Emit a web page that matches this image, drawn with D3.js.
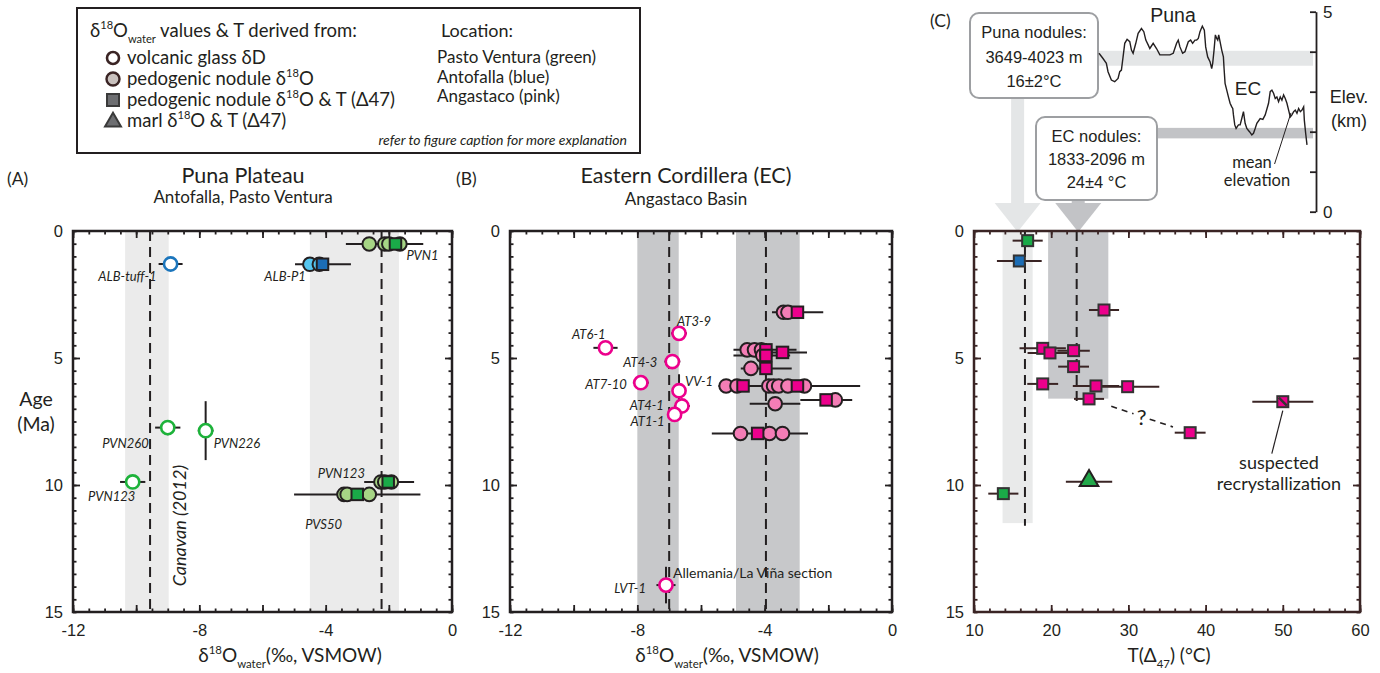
<!DOCTYPE html>
<html>
<head>
<meta charset="utf-8">
<script src="https://cdn.jsdelivr.net/npm/d3@7"></script>
<style>
body { margin: 0; background: #fff; }
svg text { font-family: Lato, "Open Sans", sans-serif; fill: #231f20; }
svg text.arial { font-family: "Liberation Sans", Arial, sans-serif; }
</style>
</head>
<body>
<div id="chart"></div>
<script>
// ---- tick labels ----
const ageTicks = [0, 5, 10, 15];
const d18OTicks = [-12, -8, -4, 0];
const tempTicks = [10, 20, 30, 40, 50, 60];
const elevTicks = [0, 1, 2, 3, 4, 5];

// ---- (A) Puna Plateau: Antofalla, Pasto Ventura ----
const punaGlass = [
    { sample: "ALB-tuff-1", site: "blue", d18O: -8.91, age: 1.30, d18OErr: 0.38, ageErr: 0 },
    { sample: "PVN260", site: "green", d18O: -9.00, age: 7.74, d18OErr: 0.40, ageErr: 0.3 },
    { sample: "PVN226", site: "green", d18O: -7.80, age: 7.86, d18OErr: 0.25, ageErr: 1.16 },
    { sample: "PVN123", site: "green", d18O: -10.11, age: 9.88, d18OErr: 0.40, ageErr: 0 }
];
const punaNodules = [
    { sample: "PVN1", site: "green", age: 0.51, lo: -3.36, hi: -0.91, circles: [-2.62, -2.13, -2.0, -1.65], squares: [-1.79] },
    { sample: "ALB-P1", site: "blue", age: 1.31, lo: -4.97, hi: -3.2, circles: [-4.5, -4.2], squares: [-4.1] },
    { sample: "PVN123", site: "green", age: 9.88, lo: -2.78, hi: -1.2, circles: [-2.25, -2.13, -1.92], squares: [-2.02] },
    { sample: "PVS50", site: "green", age: 10.37, lo: -5.0, hi: -1.0, circles: [-3.42, -3.32, -2.62], squares: [-3.0] }
];
const punaBands = [
    { mean: -9.56, lo: -10.35, hi: -8.97 },
    { mean: -2.23, lo: -4.5, hi: -1.68 }
];

// ---- (B) Eastern Cordillera: Angastaco Basin ----
const ecGlass = [
    { sample: "AT6-1", site: "pink", d18O: -9.0, age: 4.60, d18OErr: 0.38, ageErr: 0 },
    { sample: "AT3-9", site: "pink", d18O: -6.69, age: 4.03, d18OErr: 0.25, ageErr: 0 },
    { sample: "AT4-3", site: "pink", d18O: -6.9, age: 5.14, d18OErr: 0.25, ageErr: 0 },
    { sample: "AT7-10", site: "pink", d18O: -7.89, age: 5.97, d18OErr: 0.25, ageErr: 0 },
    { sample: "VV-1", site: "pink", d18O: -6.69, age: 6.29, d18OErr: 0.15, ageErr: 0.65 },
    { sample: "AT4-1", site: "pink", d18O: -6.6, age: 6.89, d18OErr: 0.25, ageErr: 0 },
    { sample: "AT1-1", site: "pink", d18O: -6.83, age: 7.22, d18OErr: 0.2, ageErr: 0 },
    { sample: "LVT-1", site: "pink", d18O: -7.1, age: 13.94, d18OErr: 0.3, ageErr: 0.72 }
];
const ecNodules = [
    { site: "pink", age: 3.20, lo: -3.77, hi: -2.16, circles: [-3.41, -3.27], squares: [-2.97] },
    { site: "pink", age: 4.68, lo: -4.98, hi: -3.0, circles: [-4.55, -4.32, -4.1], squares: [-3.96] },
    { site: "pink", age: 4.78, lo: -4.6, hi: -2.67, circles: [], squares: [-3.44] },
    { site: "pink", age: 4.90, lo: -4.98, hi: -3.2, circles: [-4.06], squares: [-3.96] },
    { site: "pink", age: 5.41, lo: -4.75, hi: -3.15, circles: [-4.43], squares: [-3.96] },
    { site: "pink", age: 6.10, lo: -5.45, hi: -1.0, circles: [-5.21, -4.87, -3.87, -3.72, -3.56, -3.27, -2.75], squares: [-4.68, -2.97] },
    { site: "pink", age: 6.65, lo: -2.88, hi: -1.25, circles: [-1.78], squares: [-2.07] },
    { site: "pink", age: 6.80, lo: -4.47, hi: -2.88, circles: [-3.67], squares: [] },
    { site: "pink", age: 7.97, lo: -5.66, hi: -2.64, circles: [-4.76, -3.85, -3.44], squares: [-4.22] }
];
const ecBands = [
    { mean: -7.0, lo: -8.0, hi: -6.7 },
    { mean: -3.96, lo: -4.9, hi: -2.9 }
];

// ---- (C) clumped isotope temperatures ----
const clumpedNodules = [
    { site: "green", temp: 16.95, age: 0.38, tempErr: 1.95 },
    { site: "blue", temp: 15.87, age: 1.18, tempErr: 2.9 },
    { site: "pink", temp: 26.84, age: 3.11, tempErr: 1.95 },
    { site: "pink", temp: 18.9, age: 4.62, tempErr: 3.0 },
    { site: "pink", temp: 22.9, age: 4.71, tempErr: 2.1 },
    { site: "pink", temp: 19.84, age: 4.80, tempErr: 2.9 },
    { site: "pink", temp: 22.9, age: 5.34, tempErr: 2.0 },
    { site: "pink", temp: 18.9, age: 6.02, tempErr: 2.0 },
    { site: "pink", temp: 25.8, age: 6.10, tempErr: 3.0 },
    { site: "pink", temp: 29.9, age: 6.13, tempErr: 4.1 },
    { site: "pink", temp: 24.9, age: 6.61, tempErr: 1.95 },
    { site: "pink", temp: 38.0, age: 7.94, tempErr: 2.0 },
    { site: "pink", temp: 50.0, age: 6.72, tempErr: 3.95, suspect: true },
    { site: "green", temp: 13.8, age: 10.34, tempErr: 1.95 }
];
const clumpedMarl = [
    { site: "green", temp: 24.9, age: 9.87, tempErr: 3.0 }
];
const tempBands = [
    { name: "Puna", mean: 16.6, lo: 13.7, hi: 17.6, ageMax: 11.5, elevLo: 3.649, elevHi: 4.023, text: ["Puna nodules:", "3649-4023 m", "16±2°C"] },
    { name: "EC", mean: 23.3, lo: 19.6, hi: 27.4, ageMax: 6.6, elevLo: 1.833, elevHi: 2.096, text: ["EC nodules:", "1833-2096 m", "24±4 °C"] }
];

// ---- topographic profile (inset) ----
const profileDist = [0, 12, 22, 27, 37, 47, 57, 62, 67, 72, 77, 84, 92, 97, 102, 110, 117, 127, 134, 140,
    147, 152, 162, 172, 182, 192, 212, 222, 232, 237, 242, 250, 257, 267, 274, 280, 287, 292, 297, 302,
    309, 315, 319, 325, 332, 337, 340, 344, 348, 352, 355, 358, 362, 367, 372, 374, 377, 382, 387, 392,
    397, 400, 402, 406, 410, 417, 422, 427, 432, 437, 442, 450, 457, 462, 467, 472, 482, 490, 497, 507,
    512, 517, 522, 527, 532, 537, 542, 547, 552, 557, 562, 567, 572, 577, 582, 587, 592, 597, 602, 607,
    612, 614, 618, 622];
const profileElev = [3.96, 3.83, 3.71, 3.50, 3.29, 3.25, 3.33, 3.50, 3.54, 3.87,
    4.21, 4.31, 4.25, 4.04, 3.96, 4.21, 4.46, 4.58, 4.50, 4.29,
    4.17, 4.08, 4.21, 4.08, 3.92, 3.92, 3.92, 3.96, 4.21, 4.29,
    4.12, 3.96, 4.00, 4.25, 4.29, 4.21, 4.29, 4.29, 4.33, 4.50,
    4.64, 4.54, 4.12, 3.87, 3.75, 3.58, 3.71, 4.04, 4.42, 4.33,
    4.29, 4.42, 4.25, 4.04, 3.87, 3.58, 3.21, 3.04, 2.87, 2.71,
    2.62, 2.58, 2.42, 2.17, 2.08, 2.17, 2.17, 2.33, 2.50, 2.21,
    2.08, 2.00, 1.92, 1.96, 2.08, 2.21, 2.33, 2.31, 2.42, 2.71,
    3.00, 3.04, 2.96, 2.83, 2.87, 2.75, 2.87, 2.79, 2.92, 2.83,
    2.71, 2.54, 2.37, 2.42, 2.50, 2.54, 2.46, 2.58, 2.50, 2.54,
    2.62, 2.29, 1.96, 1.67];

// ---- styles ----
const siteColors = {
    green: { glass: "#1db23a", nodule: "#a6d585", square: "#1aaa48" },
    blue: { glass: "#1b75bc", nodule: "#55c6ef", square: "#1c6db5" },
    pink: { glass: "#ec008c", nodule: "#f47db6", square: "#ec008c" }
};
const ink = "#231f20";
const brown = "#3a2424";

const W = 1380, H = 673;
const svg = d3.select("#chart").append("svg").attr("width", W).attr("height", H);

const yAge = d3.scaleLinear().domain([0, 15]).range([231, 612]);
const xA = d3.scaleLinear().domain([-12, 0]).range([73, 452]);
const xB = d3.scaleLinear().domain([-12, 0]).range([510, 892]);
const xC = d3.scaleLinear().domain([10, 60]).range([974, 1360]);
const xProf = d3.scaleLinear().domain([0, 622]).range([1099, 1307]);
const yElev = d3.scaleLinear().domain([0, 5]).range([211.7, 11.7]);

// text with super/subscripts: parts = [text, shift(em), scale]
function rich(sel, parts, size) {
    let cur = 0;
    parts.forEach(([t, shift = 0, scale = 1]) => {
        sel.append("tspan").attr("dy", (shift - cur) * size).attr("font-size", size * scale).text(t);
        cur = shift;
    });
    return sel;
}
const SUP = -0.42, SUB = 0.32;

function frame(g, x, y, xMinor, xMajor, yMinor, yMajor, color) {
    const [xa, xb] = x.range(), [ya, yb] = y.range();
    const add = (fn, scale, vals, size, tr) => g.append("g").attr("transform", tr)
        .call(fn(scale).tickValues(vals).tickSize(-size).tickFormat(""))
        .call(s => s.select(".domain").remove())
        .call(s => s.selectAll("line").attr("stroke", color).attr("stroke-width", 1.8));
    [[xMinor, 3.5], [xMajor, 7]].forEach(([v, s]) => {
        add(d3.axisBottom, x, v, s, `translate(0,${yb})`);
        add(d3.axisTop, x, v, s, `translate(0,${ya})`);
    });
    [[yMinor, 3.5], [yMajor, 7]].forEach(([v, s]) => {
        add(d3.axisLeft, y, v, s, `translate(${xa},0)`);
        add(d3.axisRight, y, v, s, `translate(${xb},0)`);
    });
    g.append("rect").attr("x", xa).attr("y", ya).attr("width", xb - xa).attr("height", yb - ya)
        .attr("fill", "none").attr("stroke", color).attr("stroke-width", 2.5);
}

function tickLabels(g, x, xVals, y) {
    g.append("g").attr("transform", `translate(0,${y.range()[1]})`)
        .call(d3.axisBottom(x).tickValues(xVals).tickSize(0).tickPadding(12).tickFormat(d => String(d)))
        .call(s => s.select(".domain").remove())
        .call(s => s.selectAll("text").attr("class", "arial").attr("font-size", 16.5).attr("fill", ink));
    g.append("g").attr("transform", `translate(${x.range()[0]},0)`)
        .call(d3.axisLeft(y).tickValues(ageTicks).tickSize(0).tickPadding(10).tickFormat(d => String(d)))
        .call(s => s.select(".domain").remove())
        .call(s => s.selectAll("text").attr("class", "arial").attr("font-size", 16.5).attr("fill", ink));
}

function bands(g, x, list, fill) {
    list.forEach(b => {
        g.append("rect").attr("x", x(b.lo)).attr("width", x(b.hi) - x(b.lo))
            .attr("y", yAge(0)).attr("height", yAge(15) - yAge(0)).attr("fill", fill);
        g.append("line").attr("x1", x(b.mean)).attr("x2", x(b.mean)).attr("y1", yAge(0)).attr("y2", yAge(15))
            .attr("stroke", ink).attr("stroke-width", 2).attr("stroke-dasharray", "10,6");
    });
}

function errH(g, x, a, b, age, color = ink) {
    g.append("line").attr("x1", x(a)).attr("x2", x(b)).attr("y1", yAge(age)).attr("y2", yAge(age))
        .attr("stroke", color).attr("stroke-width", 2);
}
function errV(g, xv, a, b, color = ink) {
    g.append("line").attr("x1", xv).attr("x2", xv).attr("y1", yAge(a)).attr("y2", yAge(b))
        .attr("stroke", color).attr("stroke-width", 2);
}
function square(g, cx, cy, fill, stroke, s = 11) {
    return g.append("rect").attr("x", cx - s / 2).attr("y", cy - s / 2).attr("width", s).attr("height", s)
        .attr("fill", fill).attr("stroke", stroke).attr("stroke-width", 2);
}

function nodules(g, x, rows) {
    rows.forEach(r => errH(g, x, r.lo, r.hi, r.age));
    rows.forEach(r => r.circles.forEach(v => g.append("circle").attr("cx", x(v)).attr("cy", yAge(r.age)).attr("r", 6.8)
        .attr("fill", siteColors[r.site].nodule).attr("stroke", ink).attr("stroke-width", 2)));
    rows.forEach(r => r.squares.forEach(v => square(g, x(v), yAge(r.age), siteColors[r.site].square, ink, 11.5)));
}

const labelSize = 13;
function glass(g, x, rows, offsets) {
    rows.forEach(d => {
        errH(g, x, d.d18O - d.d18OErr, d.d18O + d.d18OErr, d.age);
        if (d.ageErr) errV(g, x(d.d18O), d.age - d.ageErr, d.age + d.ageErr);
    });
    rows.forEach(d => g.append("circle").attr("cx", x(d.d18O)).attr("cy", yAge(d.age)).attr("r", 6.6)
        .attr("fill", "#fff").attr("stroke", siteColors[d.site].glass).attr("stroke-width", 2.6));
    rows.forEach(d => {
        const o = offsets[d.sample];
        g.append("text").attr("x", x(d.d18O) + o[0]).attr("y", yAge(d.age) + o[1]).attr("text-anchor", o[2])
            .attr("font-size", labelSize).attr("font-style", "italic").attr("fill", "#2a2a2a").text(d.sample);
    });
}

function sampleLabel(g, x, v, age, o, text) {
    g.append("text").attr("x", x(v) + o[0]).attr("y", yAge(age) + o[1]).attr("text-anchor", o[2])
        .attr("font-size", labelSize).attr("font-style", "italic").attr("fill", "#2a2a2a").text(text);
}

function xTitle(g, cx, parts) {
    rich(g.append("text").attr("x", cx).attr("y", 662).attr("text-anchor", "middle"), parts, 19);
}

const minorD = d3.range(-12, 0.01, 0.5), majorD = d3.range(-12, 0.01, 2);
const minorAge = d3.range(0, 15.01, 0.5), majorAge = [5, 10];

// ================= Legend =================
const leg = svg.append("g");
leg.append("rect").attr("x", 77).attr("y", 8).attr("width", 563).attr("height", 145)
    .attr("fill", "#fff").attr("stroke", ink).attr("stroke-width", 2);
rich(leg.append("text").attr("x", 90).attr("y", 37),
    [["δ"], ["18", SUP, 0.6], ["O", 0], ["water", SUB, 0.6], [" values & T derived from:", 0]], 18.5);
const legItems = [
    { shape: "open", parts: [["volcanic glass δD"]] },
    { shape: "circle", parts: [["pedogenic nodule δ"], ["18", SUP, 0.6], ["O", 0]] },
    { shape: "square", parts: [["pedogenic nodule δ"], ["18", SUP, 0.6], ["O & T (Δ47)", 0]] },
    { shape: "triangle", parts: [["marl  δ"], ["18", SUP, 0.6], ["O & T (Δ47)", 0]] }
];
legItems.forEach((it, i) => {
    const cy = 58 + i * 21;
    if (it.shape === "open") leg.append("circle").attr("cx", 113).attr("cy", cy).attr("r", 6).attr("fill", "#fff").attr("stroke", brown).attr("stroke-width", 2.6);
    if (it.shape === "circle") leg.append("circle").attr("cx", 113).attr("cy", cy).attr("r", 6.5).attr("fill", "#c9c1be").attr("stroke", brown).attr("stroke-width", 2.4);
    if (it.shape === "square") square(leg, 113, cy, "#6d6e71", "#3a3a3a", 12);
    if (it.shape === "triangle") leg.append("path").attr("d", d3.symbol(d3.symbolTriangle, 110)())
        .attr("transform", `translate(113,${cy + 1})`).attr("fill", "#6d6e71").attr("stroke", "#3a3a3a").attr("stroke-width", 2);
    rich(leg.append("text").attr("x", 127).attr("y", cy + 6), it.parts, 18.5);
});
leg.append("text").attr("x", 441).attr("y", 37).attr("font-size", 18).text("Location:");
["Pasto Ventura (green)", "Antofalla (blue)", "Angastaco (pink)"].forEach((t, i) =>
    leg.append("text").attr("x", 437).attr("y", 63 + i * 19.5).attr("font-size", 17).text(t));
leg.append("text").attr("x", 627).attr("y", 145).attr("text-anchor", "end").attr("font-size", 14)
    .attr("font-style", "italic").text("refer to figure caption for more explanation");

// ================= Panel A =================
const gA = svg.append("g");
gA.append("text").attr("x", 7).attr("y", 185).attr("font-size", 17.5).text("(A)");
gA.append("text").attr("x", 243).attr("y", 183).attr("text-anchor", "middle").attr("font-size", 21.5).text("Puna Plateau");
gA.append("text").attr("x", 243).attr("y", 203).attr("text-anchor", "middle").attr("font-size", 17).text("Antofalla, Pasto Ventura");
bands(gA, xA, punaBands, "#ebebeb");
gA.append("text").attr("transform", `translate(186,${yAge(11.6)}) rotate(-90)`).attr("text-anchor", "middle")
    .attr("font-size", 18).attr("font-style", "italic").text("Canavan (2012)");
glass(gA, xA, punaGlass, {
    "ALB-tuff-1": [-14, 17, "end"], "PVN260": [-19, 20, "end"], "PVN226": [8, 17, "start"], "PVN123": [-21, 19, "middle"]
});
nodules(gA, xA, punaNodules);
sampleLabel(gA, xA, -1.79, 0.51, [11, 16, "start"], "PVN1");
sampleLabel(gA, xA, -4.5, 1.31, [-4, 17, "end"], "ALB-P1");
sampleLabel(gA, xA, -2.25, 9.88, [-16, -4, "end"], "PVN123");
sampleLabel(gA, xA, -3.42, 10.37, [-2, 35, "end"], "PVS50");
frame(gA, xA, yAge, minorD, majorD, minorAge, majorAge, ink);
tickLabels(gA, xA, d18OTicks, yAge);
xTitle(gA, 290, [["δ"], ["18", SUP, 0.6], ["O", 0], ["water", SUB, 0.6], ["(‰, VSMOW)", 0]]);
gA.append("text").attr("x", 36).attr("y", 406).attr("text-anchor", "middle").attr("font-size", 19.5).text("Age");
gA.append("text").attr("x", 36).attr("y", 431).attr("text-anchor", "middle").attr("font-size", 19.5).text("(Ma)");

// ================= Panel B =================
const gB = svg.append("g");
gB.append("text").attr("x", 456).attr("y", 185).attr("font-size", 17.5).text("(B)");
gB.append("text").attr("x", 686).attr("y", 183).attr("text-anchor", "middle").attr("font-size", 21.5).text("Eastern Cordillera (EC)");
gB.append("text").attr("x", 686).attr("y", 205).attr("text-anchor", "middle").attr("font-size", 17).text("Angastaco Basin");
bands(gB, xB, ecBands, "#c7c8ca");
nodules(gB, xB, ecNodules);
glass(gB, xB, ecGlass, {
    "AT6-1": [0, -9, "end"], "AT3-9": [-2, -7, "start"], "AT4-3": [-15, 5, "end"], "AT7-10": [-14, 6, "end"],
    "VV-1": [6, -5, "start"], "AT4-1": [-18, 4, "end"], "AT1-1": [-10, 12, "end"], "LVT-1": [-20, 8, "end"]
});
const lvt = ecGlass.find(d => d.sample === "LVT-1");
gB.append("text").attr("x", xB(lvt.d18O) + 7).attr("y", yAge(lvt.age) - 7).attr("font-size", 14).attr("fill", "#333")
    .text("Allemania/La Viña section");
frame(gB, xB, yAge, minorD, majorD, minorAge, majorAge, ink);
tickLabels(gB, xB, d18OTicks, yAge);
xTitle(gB, 727, [["δ"], ["18", SUP, 0.6], ["O", 0], ["water", SUB, 0.6], ["(‰, VSMOW)", 0]]);

// ================= Panel C =================
const gC = svg.append("g");
gC.append("text").attr("x", 930).attr("y", 27).attr("font-size", 17.5).text("(C)");

// inset: elevation profile
tempBands.forEach((b, i) => {
    const boxX = i === 0 ? 970 : 1036, boxY = i === 0 ? 13 : 117, boxW = i === 0 ? 128 : 121, boxH = i === 0 ? 85 : 83;
    const fill = i === 0 ? "#e4e6e7" : "#c2c3c6";
    gC.append("rect").attr("x", boxX + boxW).attr("width", 1313 - boxX - boxW)
        .attr("y", yElev(b.elevHi)).attr("height", yElev(b.elevLo) - yElev(b.elevHi)).attr("fill", fill);
    const cx = xC((b.lo + b.hi) / 2);
    gC.append("rect").attr("x", cx - 6.5).attr("width", 13).attr("y", boxY + boxH).attr("height", 204 - boxY - boxH).attr("fill", fill);
    gC.append("path").attr("d", `M${cx - 23},203 L${cx + 23},203 L${cx},232 Z`).attr("fill", fill);
    // plot band and dashed mean
    gC.append("rect").attr("x", xC(b.lo)).attr("width", xC(b.hi) - xC(b.lo)).attr("y", yAge(0))
        .attr("height", yAge(b.ageMax) - yAge(0)).attr("fill", i === 0 ? "#e9eaea" : "#c7c8cb");
    gC.append("line").attr("x1", xC(b.mean)).attr("x2", xC(b.mean)).attr("y1", yAge(0)).attr("y2", yAge(b.ageMax + 0.1))
        .attr("stroke", ink).attr("stroke-width", 2).attr("stroke-dasharray", "10,6");
    gC.append("rect").attr("x", boxX).attr("y", boxY).attr("width", boxW).attr("height", boxH).attr("rx", 9)
        .attr("fill", "#fff").attr("stroke", "#9d9fa2").attr("stroke-width", 2);
    b.text.forEach((t, j) => gC.append("text").attr("class", "arial").attr("x", boxX + boxW / 2)
        .attr("y", boxY + 25 + j * (i === 0 ? 24.5 : 23)).attr("text-anchor", "middle").attr("font-size", 16.5).text(t));
});
gC.append("path")
    .attr("d", d3.line().x((d, i) => xProf(profileDist[i])).y(d => yElev(d))(profileElev))
    .attr("fill", "none").attr("stroke", ink).attr("stroke-width", 1.4);
gC.append("g").attr("transform", "translate(1316,0)")
    .call(d3.axisLeft(yElev).tickValues(elevTicks).tickSize(6).tickSizeOuter(0).tickFormat(""))
    .call(s => s.selectAll("line,path").attr("stroke", ink).attr("stroke-width", 1.8));
[[5, "5"], [0, "0"]].forEach(([v, t]) => gC.append("text").attr("class", "arial").attr("x", 1323)
    .attr("y", yElev(v) + 6.5).attr("font-size", 17).text(t));
gC.append("text").attr("class", "arial").attr("x", 1349).attr("y", 103).attr("text-anchor", "middle").attr("font-size", 18).text("Elev.");
gC.append("text").attr("class", "arial").attr("x", 1349).attr("y", 127).attr("text-anchor", "middle").attr("font-size", 18).text("(km)");
gC.append("text").attr("class", "arial").attr("x", 1173).attr("y", 22).attr("text-anchor", "middle").attr("font-size", 19.5).text("Puna");
gC.append("text").attr("class", "arial").attr("x", 1248).attr("y", 95).attr("text-anchor", "middle").attr("font-size", 19).text("EC");
gC.append("line").attr("x1", xProf(574)).attr("y1", yElev(2.47)).attr("x2", xProf(525)).attr("y2", 164)
    .attr("stroke", ink).attr("stroke-width", 1);
gC.append("text").attr("x", 1252).attr("y", 168).attr("text-anchor", "middle").attr("font-size", 16.5).text("mean");
gC.append("text").attr("x", 1257).attr("y", 186).attr("text-anchor", "middle").attr("font-size", 16.5).text("elevation");

// data
const pA = clumpedNodules.find(d => d.temp === 24.9), pB = clumpedNodules.find(d => d.temp === 38.0);
const along = t => [xC(pA.temp) + t * (xC(pB.temp) - xC(pA.temp)), yAge(pA.age) + t * (yAge(pB.age) - yAge(pA.age))];
[[0.22, 0.44], [0.6, 0.83]].forEach(([t0, t1]) => {
    const a = along(t0), b = along(t1);
    gC.append("line").attr("x1", a[0]).attr("y1", a[1]).attr("x2", b[0]).attr("y2", b[1])
        .attr("stroke", ink).attr("stroke-width", 1.6).attr("stroke-dasharray", "6,5");
});
const q = along(0.52);
gC.append("text").attr("x", q[0]).attr("y", q[1] + 9).attr("text-anchor", "middle").attr("font-size", 22).text("?");

clumpedNodules.concat(clumpedMarl).forEach(d => errH(gC, xC, d.temp - d.tempErr, d.temp + d.tempErr, d.age, brown));
clumpedNodules.forEach(d => {
    square(gC, xC(d.temp), yAge(d.age), siteColors[d.site].square, "#333", 11);
    if (d.suspect) gC.append("line").attr("x1", xC(d.temp) - 4).attr("y1", yAge(d.age) - 4)
        .attr("x2", xC(d.temp) + 4).attr("y2", yAge(d.age) + 4).attr("stroke", "#333").attr("stroke-width", 2.5);
});
clumpedMarl.forEach(d => gC.append("path").attr("d", d3.symbol(d3.symbolTriangle, 150)())
    .attr("transform", `translate(${xC(d.temp)},${yAge(d.age) - 1})`)
    .attr("fill", "#22a84a").attr("stroke", ink).attr("stroke-width", 2));

const sus = clumpedNodules.find(d => d.suspect);
gC.append("line").attr("x1", xC(sus.temp)).attr("y1", yAge(sus.age) + 9).attr("x2", xC(sus.temp) - 11).attr("y2", yAge(sus.age) + 52)
    .attr("stroke", ink).attr("stroke-width", 1.2);
gC.append("text").attr("x", 1279).attr("y", 469).attr("text-anchor", "middle").attr("font-size", 18).text("suspected");
gC.append("text").attr("x", 1279).attr("y", 490).attr("text-anchor", "middle").attr("font-size", 18).text("recrystallization");

frame(gC, xC, yAge, d3.range(10, 60.01, 2), tempTicks, minorAge, majorAge, brown);
tickLabels(gC, xC, tempTicks, yAge);
xTitle(gC, 1169, [["T(Δ"], ["47", SUB, 0.6], [") (°C)", 0]]);
</script>
</body>
</html>
